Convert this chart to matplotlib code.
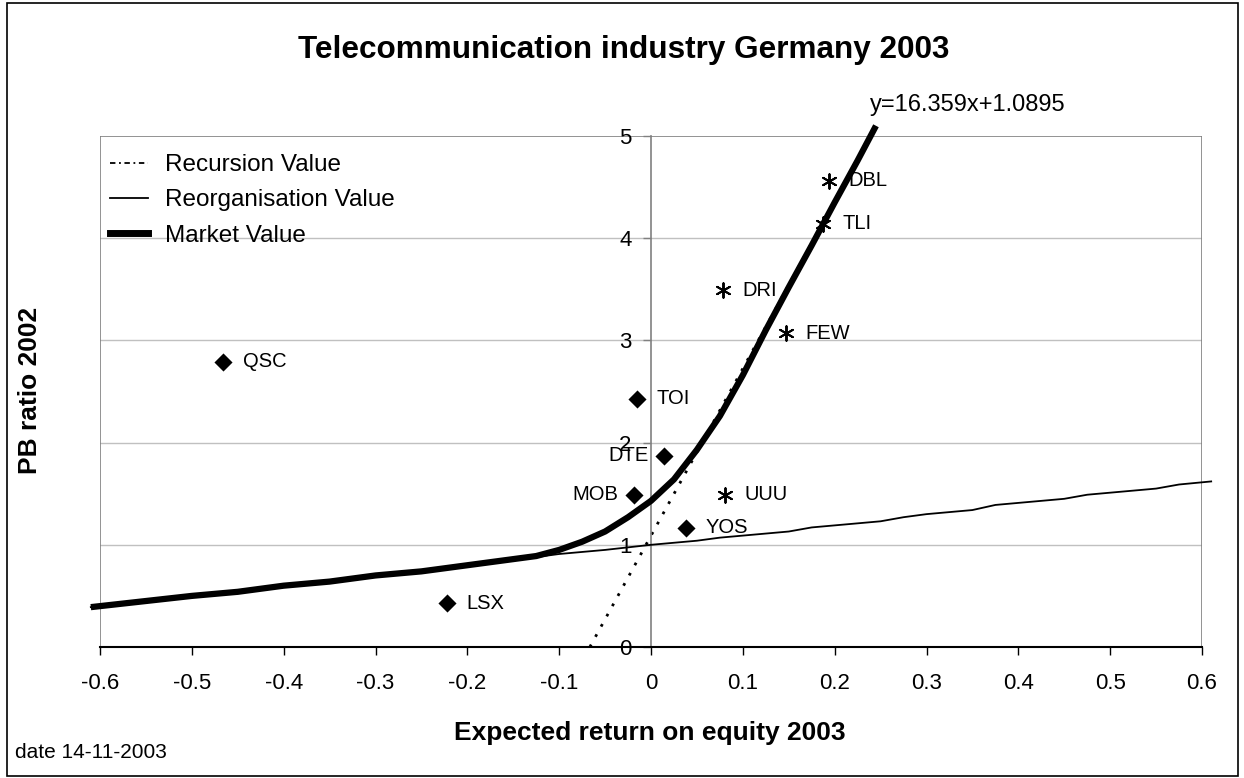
import matplotlib

matplotlib.use("Agg")
import matplotlib.pyplot as plt
from matplotlib.lines import Line2D
from matplotlib.patches import Rectangle

plt.rcParams["font.family"] = ["Liberation Sans", "DejaVu Sans"]

# reorganisation value (thin line)
reorg_x = [-0.61, -0.55, -0.525, -0.5, -0.45, -0.425, -0.4, -0.35, -0.325, -0.3,
           -0.25, -0.225, -0.2, -0.15, -0.125, -0.1, -0.05, 0.0, 0.05, 0.075,
           0.1, 0.15, 0.175, 0.2, 0.25, 0.275, 0.3, 0.35, 0.375, 0.45,
           0.475, 0.5, 0.55, 0.575, 0.61]
reorg_y = [0.39, 0.45, 0.48, 0.50, 0.54, 0.57, 0.60, 0.64, 0.67, 0.70,
           0.74, 0.77, 0.80, 0.85, 0.88, 0.91, 0.95, 1.00, 1.04, 1.07,
           1.09, 1.13, 1.17, 1.19, 1.23, 1.27, 1.30, 1.34, 1.39, 1.45,
           1.49, 1.51, 1.55, 1.59, 1.62]

# market value (thick line)
market_x = [-0.61, -0.55, -0.5, -0.45, -0.4, -0.35, -0.3, -0.25, -0.2, -0.15,
            -0.125, -0.1, -0.075, -0.05, -0.025, 0.0, 0.025, 0.05, 0.075, 0.1,
            0.125, 0.15, 0.175, 0.2, 0.225, 0.245]
market_y = [0.39, 0.45, 0.50, 0.54, 0.60, 0.64, 0.70, 0.74, 0.80, 0.86,
            0.89, 0.95, 1.03, 1.13, 1.27, 1.43, 1.64, 1.93, 2.26, 2.66,
            3.10, 3.52, 3.93, 4.35, 4.76, 5.10]

# recursion value (regression line y=16.359x+1.0895)
recursion_x = [-0.0666, 0.2391]
recursion_y = [0.0, 5.0]

diamond_names = ["QSC", "TOI", "DTE", "MOB", "YOS", "LSX"]
diamond_x = [-0.466, -0.015, 0.0145, -0.0185, 0.038, -0.222]
diamond_y = [2.79, 2.43, 1.87, 1.49, 1.165, 0.43]

star_names = ["DBL", "TLI", "DRI", "FEW", "UUU"]
star_x = [0.194, 0.187, 0.078, 0.147, 0.081]
star_y = [4.56, 4.14, 3.49, 3.07, 1.49]

left_labels = {"DTE", "MOB"}

W, H = 1244, 778
fig = plt.figure(figsize=(W / 100, H / 100), dpi=100)
ax = fig.add_axes([100 / W, 1 - 647 / H, 1102 / W, 511 / H])

ax.set_xlim(-0.6, 0.6)
ax.set_ylim(0, 5)

for yv in [1, 2, 3, 4]:
    ax.axhline(yv, color="#c0c0c0", lw=1, zorder=0)
ax.add_patch(Rectangle((0, 0), 1, 1, transform=ax.transAxes, fill=False,
                       edgecolor="#808080", lw=1.2, zorder=0))

ax.plot(recursion_x, recursion_y, color="black", lw=2, ls=(0, (1, 3.2)), zorder=2)
ax.plot(reorg_x, reorg_y, color="black", lw=1.3, zorder=3, clip_on=False)
ax.plot(market_x, market_y, color="black", lw=4.5, zorder=4, clip_on=False,
        solid_capstyle="butt")

ax.scatter(diamond_x, diamond_y, marker="D", s=85, color="black", zorder=5,
           linewidths=0)
ax.scatter(star_x, star_y, marker=(6, 2, 0), s=110, color="black",
           linewidths=1.4, zorder=5)

for name, xv, yv in list(zip(diamond_names, diamond_x, diamond_y)) + \
        list(zip(star_names, star_x, star_y)):
    if name in left_labels:
        ax.annotate(name, (xv, yv), xytext=(-11, 0), textcoords="offset points",
                    ha="right", va="center", fontsize=14.5)
    else:
        ax.annotate(name, (xv, yv), xytext=(14, 0), textcoords="offset points",
                    ha="left", va="center", fontsize=14.5)

# axes styling: y axis crosses at x=0
for side in ["top", "right"]:
    ax.spines[side].set_visible(False)
ax.spines["left"].set_position(("data", 0))
ax.spines["left"].set_color("#808080")
ax.spines["left"].set_linewidth(1.2)
ax.spines["bottom"].set_color("black")
ax.spines["bottom"].set_linewidth(1.5)

ax.set_xticks([-0.6, -0.5, -0.4, -0.3, -0.2, -0.1, 0, 0.1, 0.2, 0.3, 0.4, 0.5, 0.6])
ax.set_xticklabels(["-0.6", "-0.5", "-0.4", "-0.3", "-0.2", "-0.1", "0",
                    "0.1", "0.2", "0.3", "0.4", "0.5", "0.6"])
ax.set_yticks([0, 1, 2, 3, 4, 5])
ax.set_yticklabels(["0", "1", "2", "3", "4", "5"])
ax.tick_params(axis="x", direction="out", length=6, width=1, pad=13, labelsize=16)
ax.tick_params(axis="y", direction="out", length=6, width=1, pad=8, labelsize=16,
               color="#808080")

handles = [
    Line2D([], [], color="black", lw=1.3, ls=(0, (3, 2, 1, 2))),
    Line2D([], [], color="black", lw=1.3),
    Line2D([], [], color="black", lw=5),
]
ax.legend(handles, ["Recursion Value", "Reorganisation Value", "Market Value"],
          loc="upper left", bbox_to_anchor=(110 / W, 1 - 154 / H),
          bbox_transform=fig.transFigure, borderpad=0, borderaxespad=0,
          frameon=False, fontsize=17.5, handlelength=1.55, labelspacing=0.55,
          handletextpad=0.7)

fig.text(624 / W, 1 - 50 / H, "Telecommunication industry Germany 2003",
         ha="center", va="center", fontsize=22.7, fontweight="bold")
fig.text(870 / W, 1 - 105 / H, "y=16.359x+1.0895", ha="left", va="center",
         fontsize=17)
fig.text(30 / W, 1 - 390 / H, "PB ratio 2002", rotation=90, ha="center",
         va="center", fontsize=19, fontweight="bold")
fig.text(650 / W, 1 - 733 / H, "Expected return on equity 2003", ha="center",
         va="center", fontsize=19, fontweight="bold")
fig.text(15 / W, 1 - 752 / H, "date 14-11-2003", ha="left", va="center",
         fontsize=15)

fig.add_artist(Rectangle((7 / W, 2 / H), 1231 / W, 773 / H, transform=fig.transFigure,
                         fill=False, edgecolor="black", lw=1.2))

fig.savefig("out.png", dpi=100)
